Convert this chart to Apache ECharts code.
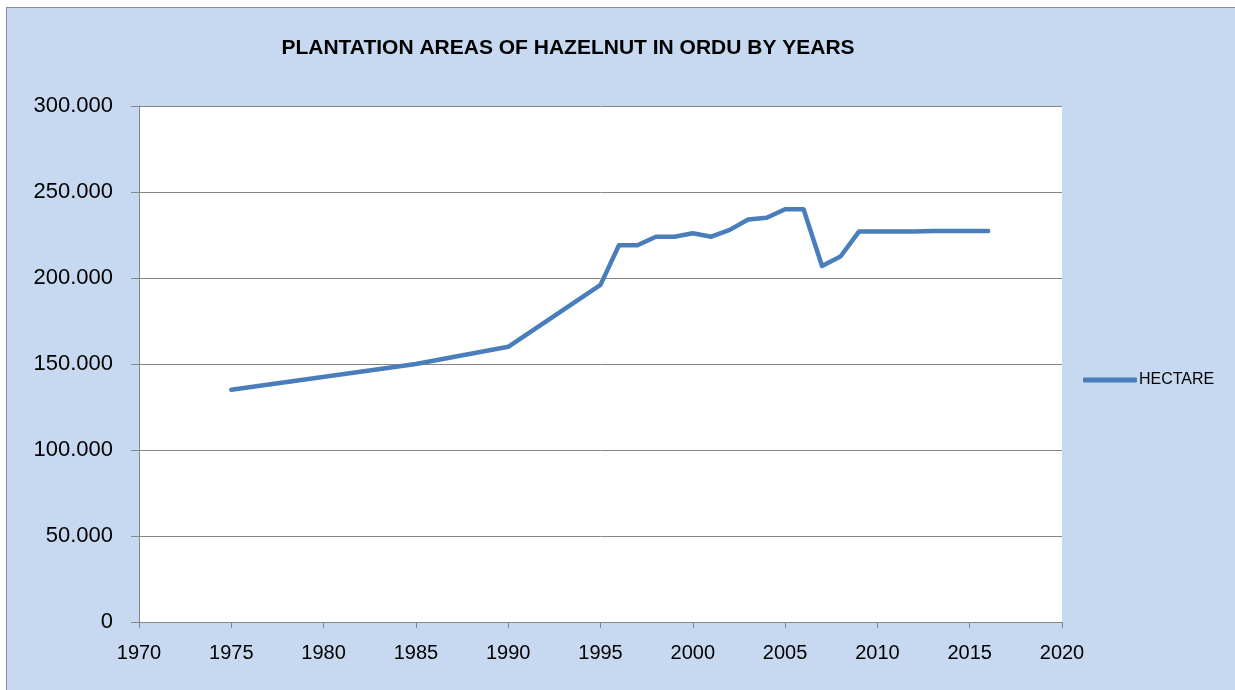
<!DOCTYPE html>
<html>
<head>
<meta charset="utf-8">
<script src="https://cdn.jsdelivr.net/npm/echarts@6/dist/echarts.min.js"></script>
<style>
  html, body { margin: 0; padding: 0; background: #ffffff; }
  #frame {
    position: absolute; left: 6px; top: 7px; width: 1240px; height: 700px;
    background: #c6d9f0; border-left: 1px solid #8c8c8c; border-top: 1px solid #8c8c8c;
  }
  #chart { position: absolute; left: 0; top: 0; width: 1235px; height: 690px; }
</style>
</head>
<body>
<div id="frame"></div>
<div id="chart"></div>
<script>
// data
const years = [1975, 1985, 1990, 1995, 1996, 1997, 1998, 1999, 2000, 2001, 2002, 2003, 2004, 2005, 2006, 2007, 2008, 2009, 2010, 2011, 2012, 2013, 2014, 2015, 2016]
const hectare = [135000, 150000, 160000, 196000, 219000, 219000, 224000, 224000, 226000, 224000, 228000, 234000, 235000, 240000, 240000, 207000, 212500, 227000, 227000, 227000, 227000, 227300, 227300, 227300, 227300]
const seriesName = 'HECTARE'
const titleText = 'PLANTATION AREAS OF HAZELNUT IN ORDU BY YEARS'

const chart = echarts.init(document.getElementById('chart'))
const font = 'Liberation Sans, Arial, sans-serif'

chart.setOption({
  animation: false,
  textStyle: { fontFamily: font },
  title: {
    text: titleText,
    left: 563,
    top: 33,
    textAlign: 'center',
    textStyle: { fontSize: 21, fontWeight: 'bold', color: '#000', fontFamily: font },
  },
  legend: {
    left: 1083,
    top: 372,
    padding: 0,
    itemWidth: 54,
    itemHeight: 5,
    itemGap: 0,
    textStyle: { fontSize: 16, color: '#000', padding: [0, 0, 0, -3] },
    data: [{ name: seriesName, icon: 'roundRect' }],
  },
  grid: { left: 139, top: 106, width: 923, height: 516, show: true, backgroundColor: '#ffffff', borderWidth: 0 },
  xAxis: {
    type: 'value',
    min: 1970,
    max: 2020,
    interval: 5,
    axisLine: { show: true, lineStyle: { color: '#868686', width: 1 } },
    axisTick: { show: true, length: 6, lineStyle: { color: '#868686' } },
    axisLabel: { fontSize: 20, color: '#000', margin: 21, formatter: v => String(v) },
    splitLine: { show: false },
  },
  yAxis: {
    type: 'value',
    min: 0,
    max: 300000,
    interval: 50000,
    axisLine: { show: true, lineStyle: { color: '#868686', width: 1 } },
    axisTick: { show: true, length: 8, lineStyle: { color: '#868686' } },
    axisLabel: {
      fontSize: 22,
      color: '#000',
      margin: 26,
      formatter: v => v === 0 ? '0' : String(v).replace(/\B(?=(\d{3})+(?!\d))/g, '.'),
    },
    splitLine: { show: true, lineStyle: { color: '#868686', width: 1 } },
  },
  series: [
    {
      name: seriesName,
      type: 'line',
      symbol: 'none',
      data: years.map((y, i) => [y, hectare[i]]),
      lineStyle: { color: '#4a7ebb', width: 4.5, cap: 'round', join: 'round' },
      itemStyle: { color: '#4a7ebb' },
    },
  ],
})
</script>
</body>
</html>
